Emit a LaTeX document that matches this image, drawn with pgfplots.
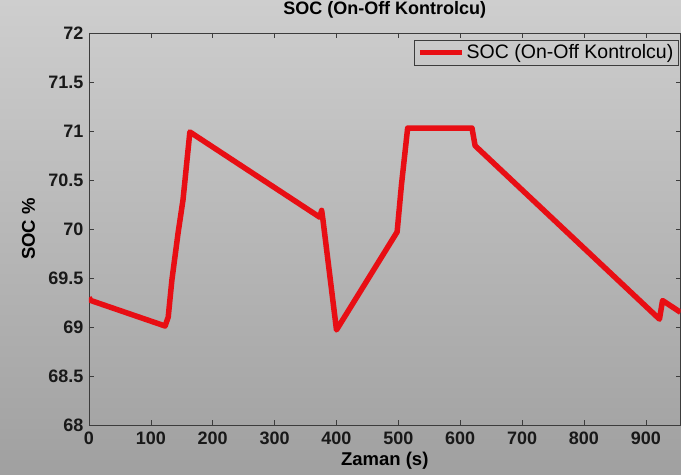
\documentclass[border=0pt]{standalone}
\usepackage{pgfplots}
\pgfplotsset{compat=1.18}
\usepackage{fontspec}
\setmainfont{Liberation Sans}
\usetikzlibrary{backgrounds}
\definecolor{socred}{RGB}{232,14,20}
\definecolor{bgtop}{RGB}{206,206,206}
\definecolor{bgbot}{RGB}{160,160,160}
\definecolor{axcol}{RGB}{60,60,60}
\begin{document}
\begin{tikzpicture}
\begin{axis}[
  scale only axis, width=591.5pt, height=392pt,
  xmin=0, xmax=956, ymin=68, ymax=72,
  xtick={0,100,...,900}, ytick={68,68.5,...,72},
  /pgf/number format/assume math mode=true,
  /pgf/number format/fixed,
  /pgf/number format/precision=1,
  tick align=inside, major tick length=5pt,
  tick style={axcol, line width=0.6pt},
  axis line style={axcol, line width=0.8pt},
  ticklabel style={font=\bfseries\fontsize{18}{20}\selectfont, text=black!90},
  xticklabel style={anchor=base, yshift=-20pt},
  yticklabel style={xshift=-2pt},
  title={\bfseries SOC (On-Off Kontrolcu)},
  title style={font=\fontsize{18}{20}\selectfont, at={(axis description cs:0.5,1)}, anchor=base, yshift=12.5pt},
  xlabel={\bfseries Zaman (s)},
  xlabel style={font=\fontsize{18.5}{20}\selectfont, at={(axis description cs:0.5,0)}, anchor=base, yshift=-41pt},
  ylabel={\bfseries SOC \%},
  ylabel style={font=\fontsize{18.5}{20}\selectfont, at={(axis description cs:-0.0913,0.5)}, anchor=base},
  legend style={at={(axis description cs:1,1)}, anchor=north east, xshift=-2.5pt, yshift=-7pt,
    draw=axcol, fill=none, font=\fontsize{19.5}{21}\selectfont, inner sep=2.5pt},
  legend cell align=left,
  legend image code/.code={\draw[#1] (0pt,0pt) -- (42pt,0pt);},
]
\addplot[socred, line width=5.5pt, line join=round] coordinates {
(0,69.30) (3,69.27) (123,69.01) (128,69.10) (134,69.48) (144,69.96) (152,70.30) (163,70.99)
(373,70.12) (376,70.19) (378,70.10) (400,68.97) (498,69.97) (505,70.45) (515,71.03)
(619,71.03) (624,70.85) (922,69.08) (927,69.27) (956,69.15)
};
\addlegendentry{SOC (On-Off Kontrolcu)}
\end{axis}
\pgfresetboundingbox
\begin{pgfonlayer}{background}
\fill[top color=bgtop, bottom color=bgbot] ([xshift=-89pt,yshift=-50pt]current axis.south west) rectangle ([xshift=0.5pt,yshift=33pt]current axis.north east);
\end{pgfonlayer}
\path[use as bounding box] ([xshift=-89pt,yshift=-50pt]current axis.south west) rectangle ([xshift=0.5pt,yshift=33pt]current axis.north east);
\end{tikzpicture}
\end{document}
